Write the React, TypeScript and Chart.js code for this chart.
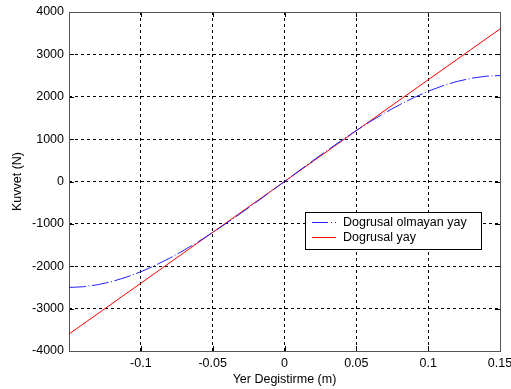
import { useEffect, useRef } from "react";
import { Chart, registerables } from "chart.js";

Chart.register(...registerables);

const displacement = [
  -0.15, -0.14, -0.13, -0.12, -0.11, -0.1, -0.09, -0.08, -0.07, -0.06, -0.05, -0.04, -0.03, -0.02, -0.01,
  0, 0.01, 0.02, 0.03, 0.04, 0.05, 0.06, 0.07, 0.08, 0.09, 0.1, 0.11, 0.12, 0.13, 0.14, 0.15,
];
const nonlinearForce = [
  -2500, -2484, -2436, -2360, -2257, -2130, -1980, -1810, -1623, -1420, -1204, -976, -740, -497, -250,
  0, 250, 497, 740, 976, 1204, 1420, 1623, 1810, 1980, 2130, 2257, 2360, 2436, 2484, 2500,
];
const linearDisplacement = [-0.15, 0, 0.15];
const linearForce = [-3600, 0, 3600];

const xTicks = [-0.15, -0.1, -0.05, 0, 0.05, 0.1, 0.15];
const xTickLabels = ["", "-0.1", "-0.05", "0", "0.05", "0.1", "0.15"];
const yTicks = [-4000, -3000, -2000, -1000, 0, 1000, 2000, 3000, 4000];
const seriesLabels = ["Dogrusal olmayan yay", "Dogrusal yay"];
const xTitle = "Yer Degistirme (m)";
const yTitle = "Kuvvet (N)";

const FONT = "'Liberation Sans', Arial, sans-serif";
const FS = 12.5;

const framePlugin = {
  id: "frame",
  beforeDatasetsDraw(chart: any) {
    const { ctx, chartArea: a, scales } = chart;
    ctx.save();
    ctx.strokeStyle = "#000";
    ctx.lineWidth = 1;
    ctx.setLineDash([]);
    const tl = 5;
    ctx.beginPath();
    xTicks.forEach((v) => {
      const x = Math.round(scales.x.getPixelForValue(v)) + 0.5;
      ctx.moveTo(x, a.bottom);
      ctx.lineTo(x, a.bottom - tl);
      ctx.moveTo(x, a.top);
      ctx.lineTo(x, a.top + tl);
    });
    yTicks.forEach((v) => {
      const y = Math.round(scales.y.getPixelForValue(v)) + 0.5;
      ctx.moveTo(a.left, y);
      ctx.lineTo(a.left + tl, y);
      ctx.moveTo(a.right, y);
      ctx.lineTo(a.right - tl, y);
    });
    ctx.stroke();
    ctx.strokeStyle = "#555";
    ctx.strokeRect(Math.round(a.left) + 0.5, Math.round(a.top) + 0.5, Math.round(a.right - a.left), Math.round(a.bottom - a.top));
    ctx.restore();
  },
  afterDraw(chart: any) {
    const { ctx } = chart;
    const bx = 305.5, by = 212.5, bw = 176, bh = 37;
    ctx.save();
    ctx.fillStyle = "#fff";
    ctx.fillRect(bx, by, bw, bh);
    ctx.strokeStyle = "#000";
    ctx.lineWidth = 1;
    ctx.setLineDash([]);
    ctx.strokeRect(bx, by, bw, bh);
    chart.data.datasets.forEach((ds: any, i: number) => {
      const y = 222.5 + i * 15;
      ctx.strokeStyle = ds.borderColor;
      ctx.setLineDash(i === 0 ? [16, 3, 1, 3] : []);
      ctx.beginPath();
      ctx.moveTo(312, y);
      ctx.lineTo(336, y);
      ctx.stroke();
      ctx.setLineDash([]);
      ctx.fillStyle = "#000";
      ctx.font = `${FS}px ${FONT}`;
      ctx.textBaseline = "middle";
      ctx.textAlign = "left";
      ctx.fillText(ds.label, 343, y);
    });
    ctx.restore();
  },
};

export default function App() {
  const ref = useRef<HTMLCanvasElement | null>(null);
  useEffect(() => {
    document.body.style.margin = "0";
    const canvas = ref.current!;
    const chart = new Chart(canvas, {
      type: "scatter",
      data: {
        datasets: [
          {
            label: seriesLabels[0],
            data: displacement.map((x, i) => ({ x, y: nonlinearForce[i] })),
            showLine: true,
            borderColor: "#2020ff",
            borderWidth: 1,
            borderDash: [17, 2.5, 1, 2.5],
            pointRadius: 0,
            tension: 0,
          },
          {
            label: seriesLabels[1],
            data: linearDisplacement.map((x, i) => ({ x, y: linearForce[i] })),
            showLine: true,
            borderColor: "#ff0000",
            borderWidth: 1,
            pointRadius: 0,
            tension: 0,
          },
        ],
      },
      options: {
        animation: false,
        responsive: false,
        layout: { padding: { top: 12, right: 11, left: 0, bottom: 0 } },
        plugins: { legend: { display: false }, tooltip: { enabled: false } },
        scales: {
          x: {
            type: "linear",
            min: -0.15,
            max: 0.15,
            afterFit: (s: any) => {
              s.height = 38;
              s.paddingLeft = 0;
              s.paddingRight = 0;
            },
            afterBuildTicks: (s: any) => {
              s.ticks = xTicks.map((v) => ({ value: v }));
            },
            ticks: {
              color: "#000",
              font: { family: FONT, size: FS },
              padding: 5,
              maxRotation: 0,
              autoSkip: false,
              callback: (v: any) => {
                const i = xTicks.findIndex((t) => Math.abs(t - Number(v)) < 1e-9);
                return i >= 0 ? xTickLabels[i] : "";
              },
            },
            grid: { color: "#000", lineWidth: 1, drawTicks: false },
            border: { display: false, dash: [3, 3] },
            title: {
              display: true,
              text: xTitle,
              color: "#000",
              font: { family: FONT, size: FS },
              padding: { top: 0, bottom: 1.5 },
            },
          },
          y: {
            type: "linear",
            min: -4000,
            max: 4000,
            afterFit: (s: any) => {
              s.width = 69;
              s.paddingTop = 0;
              s.paddingBottom = 0;
            },
            afterBuildTicks: (s: any) => {
              s.ticks = yTicks.map((v) => ({ value: v }));
            },
            ticks: {
              color: "#000",
              font: { family: FONT, size: FS },
              padding: 5,
              autoSkip: false,
              callback: (v: any) => String(v),
            },
            grid: { color: "#000", lineWidth: 1, drawTicks: false },
            border: { display: false, dash: [3, 3] },
            title: {
              display: true,
              text: yTitle,
              color: "#000",
              font: { family: FONT, size: FS },
              padding: { top: 10.5, bottom: 0 },
            },
          },
        },
      },
      plugins: [framePlugin],
    });
    return () => chart.destroy();
  }, []);
  return <canvas ref={ref} width={511} height={389} style={{ display: "block" }} />;
}
